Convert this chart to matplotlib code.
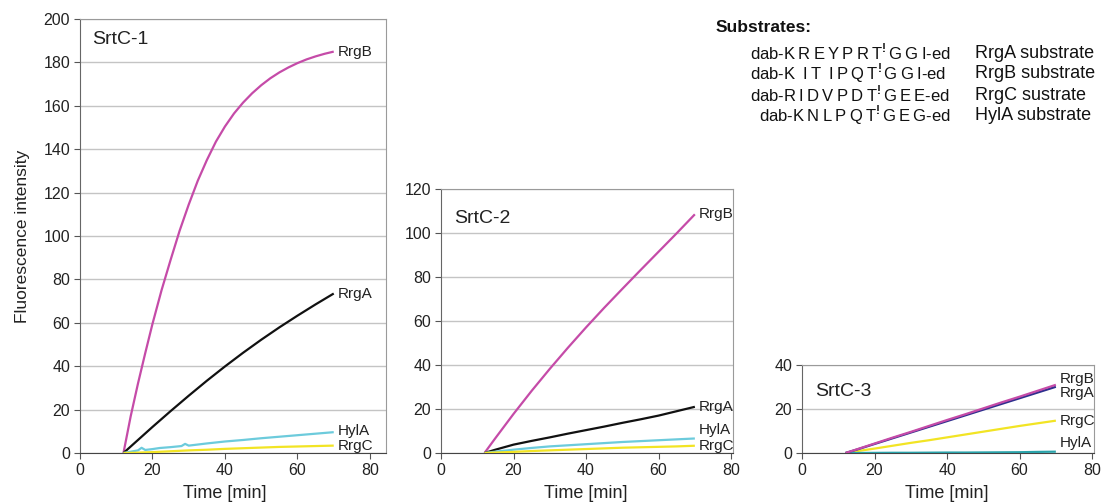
import matplotlib

matplotlib.use("Agg")
import matplotlib.pyplot as plt

# time points [min]
t = [12, 15, 20, 25, 30, 35, 40, 45, 50, 55, 60, 65, 70]
t_fine = [12, 14, 16, 18, 20, 22.5, 25, 27.5, 30, 32.5, 35, 37.5, 40, 42.5, 45,
          47.5, 50, 52.5, 55, 57.5, 60, 62.5, 65, 67.5, 70]
t_hyla1 = [12, 14, 16, 17, 18, 20, 22, 25, 28, 29, 30, 35, 40, 45, 50, 55, 60, 65, 70]

# SrtC-1
srtc1_rrgb = [0, 17, 32, 46, 59.5, 75, 89, 102.5, 114.5, 125.5, 135, 143.5, 150.5,
              156.5, 161.5, 165.8, 169.5, 172.7, 175.4, 177.7, 179.7, 181.4, 182.8, 184, 185]
srtc1_rrga = [0, 4.5, 12, 19.3, 26.4, 33.3, 39.9, 46.2, 52.2, 57.9, 63.3, 68.5, 73.5]
srtc1_hyla = [0, 0.6, 1.2, 2.4, 1.4, 1.8, 2.3, 2.7, 3.2, 4.2, 3.4, 4.4, 5.3, 6.0, 6.8, 7.5, 8.2, 8.9, 9.6]
srtc1_rrgc = [0, 0.1, 0.4, 0.8, 1.2, 1.5, 1.9, 2.2, 2.5, 2.8, 3.0, 3.2, 3.4]

# SrtC-2
srtc2_rrgb = [0, 6.75, 17.75, 28.25, 38.25, 47.85, 57.1, 66.0, 74.6, 83.1, 91.5, 99.9, 108.5]
srtc2_rrga = [0, 1.5, 3.8, 5.5, 7.1, 8.8, 10.4, 12, 13.7, 15.3, 17, 19, 21]
srtc2_hyla = [0, 0.6, 1.5, 2.3, 3, 3.5, 4, 4.5, 5, 5.4, 5.8, 6.2, 6.6]
srtc2_rrgc = [0, 0.2, 0.5, 0.9, 1.2, 1.5, 1.8, 2.1, 2.4, 2.6, 2.8, 3.0, 3.3]

# SrtC-3
srtc3_rrgb = [0, 1.6, 4.3, 7.0, 9.6, 12.3, 15.0, 17.6, 20.3, 23.0, 25.6, 28.3, 31.0]
srtc3_rrga = [0, 1.5, 4.1, 6.7, 9.3, 11.9, 14.5, 17.1, 19.7, 22.3, 24.9, 27.5, 30.1]
srtc3_rrgc = [0, 0.8, 2.0, 3.3, 4.6, 5.8, 7.1, 8.4, 9.7, 11.0, 12.3, 13.5, 14.7]
srtc3_hyla = [0, 0, 0.05, 0.1, 0.1, 0.15, 0.2, 0.2, 0.25, 0.3, 0.35, 0.5, 0.6]

CUT = r"$^{\mathbf{!}}$"
substrate_seqs = [
    "dab-K\u2009R\u2009E\u2009Y\u2009P\u2009R\u2009T" + CUT + "G\u2009G\u2009I-ed",
    "dab-K\u2009 I\u2009T\u2009 I\u2009P\u2009Q\u2009T" + CUT + "G\u2009G\u2009I-ed",
    "dab-R\u2009I\u2009D\u2009V\u2009P\u2009D\u2009T" + CUT + "G\u2009E\u2009E-ed",
    "dab-K\u2009N\u2009L\u2009P\u2009Q\u2009T" + CUT + "G\u2009E\u2009G-ed",
]
substrate_names = ["RrgA substrate", "RrgB substrate", "RrgC sustrate", "HylA substrate"]

MAGENTA = "#c54ba8"
BLACK = "#111111"
CYAN = "#6ccbdc"
YELLOW = "#f2e424"
NAVY = "#2e2f8e"
TEAL = "#2aa3aa"
TEXT = "#222222"

plt.rcParams["font.family"] = ["Liberation Sans", "DejaVu Sans"]
plt.rcParams["mathtext.fontset"] = "custom"
plt.rcParams["mathtext.rm"] = "Liberation Sans"
plt.rcParams["mathtext.bf"] = "Liberation Sans:bold"

fig = plt.figure(figsize=(11.03, 5.04), dpi=100)

panels = [
    # rect, ymax, yticks, xmax, name, name position, series (x, y, colour, label, label dy)
    ([0.0725, 0.1012, 0.2774, 0.861], 200, range(0, 201, 20), 84.4, "SrtC-1", (0.04, 0.952),
     [(t_fine, srtc1_rrgb, MAGENTA, "RrgB", 0),
      (t, srtc1_rrga, BLACK, "RrgA", 0),
      (t_hyla1, srtc1_hyla, CYAN, "HylA", 1),
      (t, srtc1_rrgc, YELLOW, "RrgC", 0)]),
    ([0.3998, 0.1012, 0.2647, 0.5238], 120, range(0, 121, 20), 80.5, "SrtC-2", (0.045, 0.89),
     [(t, srtc2_rrgb, MAGENTA, "RrgB", 0),
      (t, srtc2_rrga, BLACK, "RrgA", 0),
      (t, srtc2_hyla, CYAN, "HylA", 6),
      (t, srtc2_rrgc, YELLOW, "RrgC", 0)]),
    ([0.7271, 0.1012, 0.2647, 0.1746], 40, range(0, 41, 20), 80.5, "SrtC-3", (0.045, 0.70),
     [(t, srtc3_rrgc, YELLOW, "RrgC", 0),
      (t, srtc3_hyla, TEAL, "HylA", 6),
      (t, srtc3_rrga, NAVY, "RrgA", -4.5),
      (t, srtc3_rrgb, MAGENTA, "RrgB", 4)]),
]

for rect, ymax, yticks, xmax, name, name_pos, series in panels:
    ax = fig.add_axes(rect)
    for x, y, color, label, dy in series:
        ax.plot(x, y, color=color, linewidth=1.6, solid_capstyle="butt", zorder=3)
        ax.annotate(label, xy=(x[-1], y[-1]), xytext=(3, dy), textcoords="offset points",
                    ha="left", va="center", fontsize=11, color=TEXT)
    ax.set_xlim(0, xmax)
    ax.set_ylim(0, ymax)
    ax.set_xticks(range(0, 81, 20))
    ax.set_yticks(list(yticks))
    ax.yaxis.grid(True, color="#c4c4c4", linewidth=1.0)
    ax.set_axisbelow(True)
    ax.tick_params(labelsize=11.5, length=4, width=0.8, color="#555555", pad=3, labelcolor=TEXT)
    ax.set_xlabel("Time [min]", fontsize=13, labelpad=5, color=TEXT)
    # the x label sits over the 0-80 range, not over the whole box
    ax.xaxis.label.set_x(40 / xmax)
    for side in ("top", "right"):
        ax.spines[side].set_color("#9a9a9a")
    ax.spines["left"].set_color("#666666")
    ax.spines["bottom"].set_color("#444444")
    ax.text(name_pos[0], name_pos[1], name, transform=ax.transAxes, fontsize=14,
            ha="left", va="center", color=TEXT)
    if ymax == 200:
        ax.set_ylabel("Fluorescence intensity", fontsize=12.5, labelpad=10, color=TEXT)

fig.text(716 / 1103, 1 - 28 / 504, "Substrates:", fontsize=12.5, fontweight="bold",
         ha="left", va="center", color="#111111")
row_x = [750, 750, 750, 759]
row_y = [52, 73, 94, 115]
for seq, sub, rx, ry in zip(substrate_seqs, substrate_names, row_x, row_y):
    fig.text(rx / 1103, 1 - ry / 504, seq, fontsize=12, ha="left", va="center", color="#111111")
    fig.text(975 / 1103, 1 - (ry + 1) / 504, sub, fontsize=13, ha="left", va="center", color="#111111")

fig.savefig("out.png", dpi=100)
